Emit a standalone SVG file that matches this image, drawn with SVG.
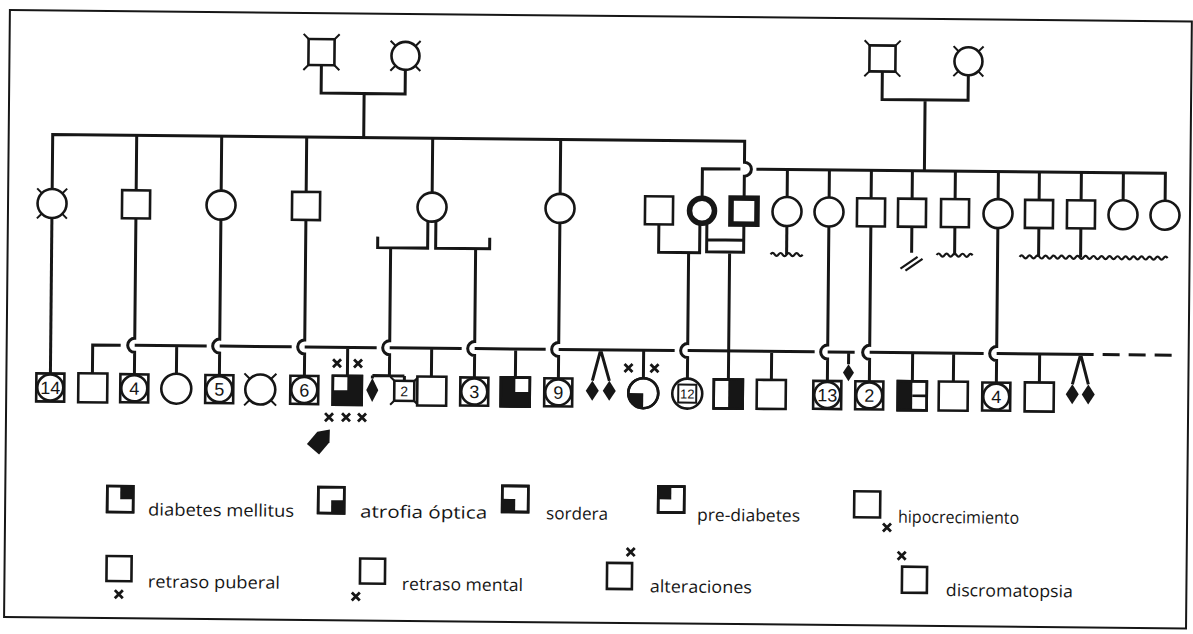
<svg xmlns="http://www.w3.org/2000/svg" width="1193" height="634" viewBox="0 0 1193 634">
<style>
.ln{fill:none;stroke:#161616;stroke-width:3}
.sym{fill:#fff;stroke:#161616;stroke-width:2.6}
.nf{fill:none;stroke:#161616;stroke-width:2.6}
.thk{fill:#fff;stroke:#161616;stroke-width:5.5}
.blk{fill:#161616}
.tick{stroke:#161616;stroke-width:2;fill:none}
.xm{stroke:#161616;stroke-width:2.8;fill:none}
.num{font-family:"Liberation Sans",Arial,sans-serif;font-size:18px;fill:#161616;text-anchor:middle}
.lg{font-family:"Open Sans","Liberation Sans",sans-serif;font-size:17px;fill:#161616}
</style>
<defs>
<path id="xm" class="xm" d="M-4,-4 L4,4 M4,-4 L-4,4"/>
</defs>
<rect width="1193" height="634" fill="#fff"/>
<g transform="rotate(0.55)">
<rect x="10" y="10" width="1182" height="607" fill="none" stroke="#161616" stroke-width="2"/>

<g id="connectors" class="ln">
<path d="M322,62 V90 H406 V66 M365,90 V134"/>
<path d="M883,63 V91 H969 V66 M926,91 V162"/>
<path d="M54,188.5 V134 H746 V155 A7,7 0 0 1 746,169 V190"/>
<path d="M138,134 V189 M223,134 V188.5 M308,134 V189 M434,134 V188.5 M562,134 V188.5"/>
<path d="M704,190 V162 H742 M758,162 H1167 V189.5"/>
<path d="M789,162 V189.5 M831,162 V189.5 M873,162 V190 M914,162 V190 M957,162 V190 M1000,162 V189.5 M1041,162 V190 M1083,162 V190 M1125,162 V189.5"/>
<path d="M54,217.5 V372.5"/>
<path d="M138,217 V337 A7,7 0 0 0 138,351 V372.5"/>
<path d="M223,217.5 V337 A7,7 0 0 0 223,351 V372.5"/>
<path d="M308,217 V337 A7,7 0 0 0 308,351 V372.5"/>
<path d="M430,217.5 V244 H380 V233 M438,217.5 V244 H492 V233"/>
<path d="M393,244 V337 A7,7 0 0 0 393,351 V372 M376,372 H408 M376,372 V375 M408,372 V377"/>
<path d="M478,244 V337 A7,7 0 0 0 478,351 V372.5"/>
<path d="M562,217.5 V337 A7,7 0 0 0 562,351 V372.5"/>
<path d="M661,218 V246 H702 V218"/>
<path d="M691,246 V337 A7,7 0 0 0 691,351 V372"/>
<path d="M709,218 V245 H746 V218 M709,233 H746 M732,245 V372.5"/>
<path d="M789,218.5 V247"/>
<path d="M831,218.5 V337 A7,7 0 0 0 831,351 V372.5"/>
<path d="M873,218 V337 A7,7 0 0 0 873,351 V372.5"/>
<path d="M914,218 V244 M957,218 V246"/>
<path d="M1000,218.5 V337 A7,7 0 0 0 1000,351 V372.5"/>
<path d="M1041,218 V247 M1083,218 V247"/>
<path stroke-width="2.2" d="M773,247 q2,-3 4,0 t4,0 t4,0 t4,0 t4,0 t4,0 t4,0 t4,0"/>
<path stroke-width="2.2" d="M939,246 q2,-3 4,0 t4,0 t4,0 t4,0 t4,0 t4,0 t4,0 t4,0 t4,0"/>
<path stroke-width="2.2" d="M1022,247 q2,-3 4,0 t4,0 t4,0 t4,0 t4,0 t4,0 t4,0 t4,0 t4,0 t4,0 t4,0 t4,0 t4,0 t4,0 t4,0 t4,0 t4,0 t4,0 t4,0 t4,0 t4,0 t4,0 t4,0 t4,0 t4,0 t4,0 t4,0 t4,0 t4,0 t4,0 t4,0 t4,0 t4,0 t4,0 t4,0 t4,0 t4,0"/>
<path stroke-width="2.2" d="M903,260 L920,248 M908,262 L925,250"/>
<path d="M96,372.5 V344 H124"/>
<path d="M138,344 H210 M180,344 V372"/>
<path d="M223,344 H295"/>
<path d="M308,344 H380 M351,344 V372.5"/>
<path d="M393,344 H465 M435,344 V372.5"/>
<path d="M478,344 H549 M519,344 V372.5"/>
<path d="M562,344 H678 M604,344 L596,375 M604,344 L613,375 M647,344 V372"/>
<path d="M691,344 H818 M775,344 V372.5"/>
<path d="M831,344 H858 M852,344 V356"/>
<path d="M873,344 H987 M916,344 V372.5 M957,344 V372.5"/>
<path d="M1000,344 H1097 M1043,344 V372.5 M1084,344 L1076,374 M1084,344 L1092,374"/>
<path d="M1106,344 H1177" stroke-dasharray="17 9"/>
</g>

<g id="gp-l-m"><rect class="sym" x="309" y="36" width="26" height="26"/><path class="tick" d="M309,36 L304,31 M335,36 L340,31 M309,62 L304,67 M335,62 L340,67"/></g>
<g id="gp-l-f"><circle class="sym" cx="406" cy="52" r="14"/><path class="tick" d="M396,42 L391,37 M416,42 L421,37 M396,62 L391,67 M416,62 L421,67"/></g>
<g id="gp-r-m"><rect class="sym" x="870" y="37" width="26" height="26"/><path class="tick" d="M870,37 L865,32 M896,37 L901,32 M870,63 L865,68 M896,63 L901,68"/></g>
<g id="gp-r-f"><circle class="sym" cx="969" cy="52" r="14"/><path class="tick" d="M959,42 L954,37 M979,42 L984,37 M959,62 L954,67 M979,62 L984,67"/></g>

<g id="II-1"><circle class="sym" cx="54" cy="203" r="14.5"/><path class="tick" d="M43.7,192.7 L39,188 M64.3,192.7 L69,188 M43.7,213.3 L39,218 M64.3,213.3 L69,218"/></g>
<g id="II-2"><rect class="sym" x="124" y="189" width="28" height="28"/></g>
<g id="II-3"><circle class="sym" cx="223" cy="203" r="14.5"/></g>
<g id="II-4"><rect class="sym" x="294" y="189" width="28" height="28"/></g>
<g id="II-5"><circle class="sym" cx="434" cy="203" r="14.5"/></g>
<g id="II-6"><circle class="sym" cx="562" cy="203" r="14.5"/></g>
<g id="II-7"><rect class="sym" x="647" y="190" width="28" height="28"/></g>
<g id="II-8"><circle class="thk" cx="704" cy="204" r="12.5"/></g>
<g id="II-9"><rect class="thk" x="733" y="191" width="26" height="26"/></g>
<g id="II-10"><circle class="sym" cx="789" cy="204" r="14.5"/></g>
<g id="II-11"><circle class="sym" cx="831" cy="204" r="14.5"/></g>
<g id="II-12"><rect class="sym" x="859" y="190" width="28" height="28"/></g>
<g id="II-13"><rect class="sym" x="900" y="190" width="28" height="28"/></g>
<g id="II-14"><rect class="sym" x="943" y="190" width="28" height="28"/></g>
<g id="II-15"><circle class="sym" cx="1000" cy="204" r="14.5"/></g>
<g id="II-16"><rect class="sym" x="1027" y="190" width="28" height="28"/></g>
<g id="II-17"><rect class="sym" x="1069" y="190" width="28" height="28"/></g>
<g id="II-18"><circle class="sym" cx="1125" cy="204" r="14.5"/></g>
<g id="II-19"><circle class="sym" cx="1167" cy="204" r="14.5"/></g>

<g id="III-1"><rect class="sym" x="40" y="373" width="28" height="28"/><circle class="nf" cx="54" cy="387" r="13"/><text class="num" x="54" y="393.5">14</text></g>
<g id="III-2"><rect class="sym" x="82" y="372.5" width="29" height="29"/></g>
<g id="III-3"><rect class="sym" x="124" y="373" width="28" height="28"/><circle class="nf" cx="138" cy="387" r="13"/><text class="num" x="138" y="393.5">4</text></g>
<g id="III-4"><circle class="sym" cx="180" cy="387" r="15"/></g>
<g id="III-5"><rect class="sym" x="209" y="373" width="28" height="28"/><circle class="nf" cx="223" cy="387" r="13"/><text class="num" x="223" y="393.5">5</text></g>
<g id="III-6"><circle class="sym" cx="264" cy="387" r="15"/><path class="tick" d="M253.4,376.4 L248,371 M274.6,376.4 L280,371 M253.4,397.6 L248,403 M274.6,397.6 L280,403"/></g>
<g id="III-7"><rect class="sym" x="294" y="373" width="28" height="28"/><circle class="nf" cx="308" cy="387" r="13"/><text class="num" x="308" y="393.5">6</text></g>
<g id="III-8"><rect class="sym" x="336.5" y="372.5" width="29" height="29"/><path class="blk" d="M351,372.5 H365.5 V401.5 H336.5 V387 H351 Z"/><rect class="nf" x="336.5" y="372.5" width="29" height="29"/>
<use href="#xm" x="340.5" y="360"/><use href="#xm" x="361.5" y="360"/>
<use href="#xm" x="333" y="414"/><use href="#xm" x="350" y="414"/><use href="#xm" x="366" y="414"/>
<polygon class="blk" transform="translate(325,437) rotate(40)" points="0,-14 8,-4 8,12 -8,12 -8,-4"/></g>
<g id="III-9"><polygon class="blk" points="376,374.5 382,386.5 376,398.5 370,386.5"/></g>
<g id="III-10"><rect class="sym" x="398" y="377" width="20" height="20"/><text class="num" x="408" y="392.5" style="font-size:14px">2</text><path class="tick" d="M398,377 L394,373 M418,377 L422,373 M398,397 L394,401 M418,397 L422,401"/></g>
<g id="III-11"><rect class="sym" x="421" y="372.5" width="29" height="29"/></g>
<g id="III-12"><rect class="sym" x="464" y="373" width="28" height="28"/><circle class="nf" cx="478" cy="387" r="13"/><text class="num" x="478" y="393.5">3</text></g>
<g id="III-13"><rect class="sym" x="504.5" y="372.5" width="29" height="29"/><path class="blk" d="M504.5,372.5 H519 V387 H533.5 V401.5 H504.5 Z"/><rect class="nf" x="504.5" y="372.5" width="29" height="29"/></g>
<g id="III-14"><rect class="sym" x="548" y="373" width="28" height="28"/><circle class="nf" cx="562" cy="387" r="13"/><text class="num" x="562" y="393.5">9</text></g>
<g id="III-15"><polygon class="blk" points="596,375 602.5,385 596,395 589.5,385"/><polygon class="blk" points="613,375 619.5,385 613,395 606.5,385"/></g>
<g id="III-16"><circle class="sym" cx="647" cy="387" r="15"/><path class="blk" d="M647,387 H632 A15,15 0 0 0 647,402 Z"/><circle class="nf" cx="647" cy="387" r="15"/>
<use href="#xm" x="632" y="362"/><use href="#xm" x="658" y="362"/></g>
<g id="III-17"><circle class="sym" cx="691" cy="387" r="15"/><rect class="nf" x="682" y="378" width="18" height="18" style="stroke-width:2"/><text class="num" x="691" y="392" style="font-size:13px">12</text></g>
<g id="III-18"><rect class="sym" x="717.5" y="372.5" width="29" height="29"/><rect class="blk" x="732" y="372.5" width="14.5" height="29"/><rect class="nf" x="717.5" y="372.5" width="29" height="29"/></g>
<g id="III-19"><rect class="sym" x="760.5" y="372.5" width="29" height="29"/></g>
<g id="III-20"><rect class="sym" x="817" y="373" width="28" height="28"/><circle class="nf" cx="831" cy="387" r="13"/><text class="num" x="831" y="393.5">13</text></g>
<g id="III-21"><polygon class="blk" points="852,356 857.5,364.5 852,373 846.5,364.5"/></g>
<g id="III-22"><rect class="sym" x="859" y="373" width="28" height="28"/><circle class="nf" cx="873" cy="387" r="13"/><text class="num" x="873" y="393.5">2</text></g>
<g id="III-23"><rect class="sym" x="901.5" y="372.5" width="29" height="29"/><rect class="blk" x="901.5" y="372.5" width="14.5" height="29"/><path class="nf" d="M916,387 H930.5"/><rect class="nf" x="901.5" y="372.5" width="29" height="29"/></g>
<g id="III-24"><rect class="sym" x="942.5" y="372.5" width="29" height="29"/></g>
<g id="III-25"><rect class="sym" x="986" y="373" width="28" height="28"/><circle class="nf" cx="1000" cy="387" r="13"/><text class="num" x="1000" y="393.5">4</text></g>
<g id="III-26"><rect class="sym" x="1028.5" y="372.5" width="29" height="29"/></g>
<g id="III-27"><polygon class="blk" points="1076,374 1082.5,384 1076,394 1069.5,384"/><polygon class="blk" points="1092,374 1098.5,384 1092,394 1085.5,384"/></g>

<g id="legend-dm"><rect class="sym" x="112" y="485" width="26" height="26"/><rect class="blk" x="125" y="485" width="13" height="13"/><rect class="nf" x="112" y="485" width="26" height="26"/><text class="lg" x="153" y="514" textLength="146" lengthAdjust="spacingAndGlyphs">diabetes mellitus</text></g>
<g id="legend-ao"><rect class="sym" x="323" y="484" width="26" height="26"/><rect class="blk" x="336" y="497" width="13" height="13"/><rect class="nf" x="323" y="484" width="26" height="26"/><text class="lg" x="365" y="514" textLength="127" lengthAdjust="spacingAndGlyphs">atrofia óptica</text></g>
<g id="legend-so"><rect class="sym" x="507" y="481" width="26" height="26"/><rect class="blk" x="507" y="494" width="13" height="13"/><rect class="nf" x="507" y="481" width="26" height="26"/><text class="lg" x="551" y="514" textLength="62" lengthAdjust="spacingAndGlyphs">sordera</text></g>
<g id="legend-pd"><rect class="sym" x="663" y="480" width="26" height="26"/><rect class="blk" x="663" y="480" width="13" height="13"/><rect class="nf" x="663" y="480" width="26" height="26"/><text class="lg" x="702" y="514" textLength="103" lengthAdjust="spacingAndGlyphs">pre-diabetes</text></g>
<g id="legend-hi"><rect class="sym" x="859" y="483" width="26" height="26"/><use href="#xm" x="892" y="519"/><text class="lg" x="903" y="514" textLength="121" lengthAdjust="spacingAndGlyphs">hipocrecimiento</text></g>
<g id="legend-rp"><rect class="sym" x="112" y="555" width="25" height="25"/><use href="#xm" x="124.5" y="593"/><text class="lg" x="153.5" y="586" textLength="132" lengthAdjust="spacingAndGlyphs">retraso puberal</text></g>
<g id="legend-rm"><rect class="sym" x="365.5" y="555" width="25" height="25"/><use href="#xm" x="361.5" y="593"/><text class="lg" x="407.5" y="586" textLength="121" lengthAdjust="spacingAndGlyphs">retraso mental</text></g>
<g id="legend-al"><rect class="sym" x="612.5" y="557" width="25" height="26"/><use href="#xm" x="636" y="546"/><text class="lg" x="655.5" y="586" textLength="102" lengthAdjust="spacingAndGlyphs">alteraciones</text></g>
<g id="legend-di"><rect class="sym" x="907.5" y="558" width="25" height="26"/><use href="#xm" x="907" y="547"/><text class="lg" x="951.5" y="587" textLength="127" lengthAdjust="spacingAndGlyphs">discromatopsia</text></g>
</g>
</svg>
